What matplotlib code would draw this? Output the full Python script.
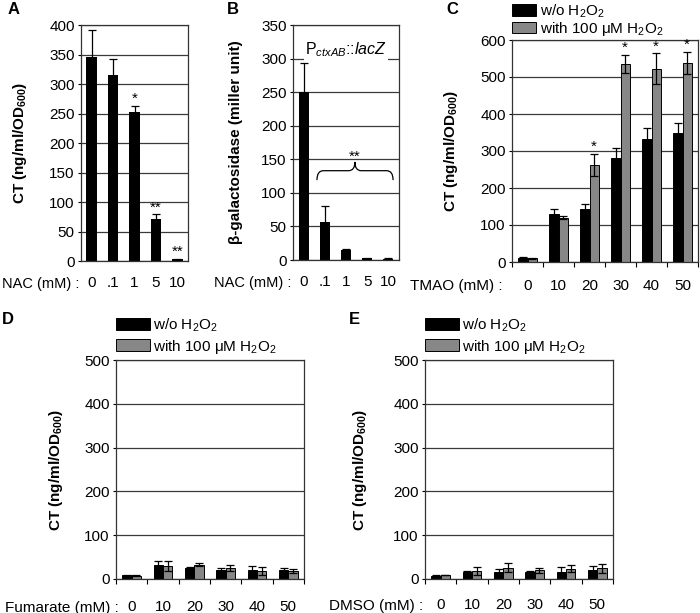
import numpy as np
import matplotlib
matplotlib.use("Agg")
import matplotlib.pyplot as plt
from matplotlib.patches import Patch, PathPatch
from matplotlib.path import Path

plt.rcParams["font.family"] = ["Liberation Sans", "DejaVu Sans"]
plt.rcParams["font.size"] = 8.5
plt.rcParams["mathtext.fontset"] = "custom"
plt.rcParams["mathtext.rm"] = "Liberation Sans"
plt.rcParams["mathtext.it"] = "Liberation Sans:italic"
plt.rcParams["mathtext.bf"] = "Liberation Sans:bold"

# panel A: CT vs NAC
nac_labels = ["0", ".1", "1", "5", "10"]
ct_nac = [345, 315, 252, 72, 3]
ct_nac_err = [47, 27, 11, 7, 1]
ct_nac_stars = ["", "", "*", "**", "**"]

# panel B: beta-galactosidase vs NAC
bgal = [250, 57, 15, 2.5, 2]
bgal_err = [43, 23, 1.5, 0.8, 0.6]

# panel C: TMAO
conc_labels = ["0", "10", "20", "30", "40", "50"]
tmao_wo = [12, 130, 143, 280, 333, 348]
tmao_wo_err = [2, 12, 15, 27, 30, 27]
tmao_h2o2 = [10, 120, 262, 535, 522, 537]
tmao_h2o2_err = [1, 4, 30, 25, 42, 30]
tmao_stars = ["", "", "*", "*", "*", "*"]

# panel D: fumarate
fum_wo = [8, 32, 24, 20, 20, 20]
fum_wo_err = [1, 8, 4, 5, 10, 6]
fum_h2o2 = [7, 30, 33, 26, 18, 18]
fum_h2o2_err = [1, 12, 3, 7, 9, 4]

# panel E: DMSO
dmso_wo = [7, 16, 16, 15, 17, 20]
dmso_wo_err = [1, 3, 6, 4, 10, 9]
dmso_h2o2 = [9, 18, 26, 20, 23, 24]
dmso_h2o2_err = [1, 9, 10, 6, 8, 10]

GRAY = "#878787"
W, H = 700, 613

fig = plt.figure(figsize=(7, 6.13), dpi=100)


def px_axes(left, right, top, bottom):
    return fig.add_axes([left / W, (H - bottom) / H, (right - left) / W, (bottom - top) / H])


def style(ax, ymax, ystep, labels, prefix, pad, xt_len, pre_dx, pre_fs, ylab, ylab_x):
    n = len(labels)
    ax.set_xlim(-0.5, n - 0.5)
    ax.set_ylim(0, ymax)
    ax.set_yticks(np.arange(0, ymax + 1, ystep))
    ax.yaxis.grid(True, color="#3a3a3a", linewidth=0.9)
    ax.set_axisbelow(True)
    for s in ax.spines.values():
        s.set_linewidth(0.9)
        s.set_color("#333333")
    ax.tick_params(axis="y", length=2.5, width=0.8, pad=2, labelsize=11)
    ax.set_xticks(range(n))
    ax.set_xticklabels(labels)
    ax.tick_params(axis="x", which="major", length=0, pad=pad, labelsize=11)
    if xt_len > 0:
        ax.set_xticks(np.arange(-0.5, n, 1), minor=True)
        ax.tick_params(axis="x", which="minor", length=xt_len, width=0.8)
    ax.annotate(prefix, xy=(0, 0), xycoords="axes fraction",
                xytext=(pre_dx, -pad - 0.5), textcoords="offset points",
                ha="right", va="top", fontsize=pre_fs)
    ax.set_ylabel(ylab, fontweight="bold", fontsize=11)
    ax.yaxis.set_label_coords(ylab_x, 0.5)


ct_label = r"CT (ng/ml/OD$_{\mathbf{600}}$)"
h2o2 = r"H$_2$O$_2$"

# ---- A
axA = px_axes(81, 188, 25, 261)
x = np.arange(len(nac_labels))
axA.bar(x, ct_nac, width=0.5, color="black", zorder=2)
axA.errorbar(x, ct_nac, yerr=ct_nac_err, fmt="none", ecolor="black",
             elinewidth=0.9, capsize=3, capthick=0.9, zorder=3)
for xi, v, e, s in zip(x, ct_nac, ct_nac_err, ct_nac_stars):
    if s:
        axA.annotate(s, xy=(xi, v + e), xytext=(0, 0), textcoords="offset points",
                     ha="center", va="bottom", fontsize=11)
style(axA, 400, 50, nac_labels, "NAC (mM) :", 11, 0, -1, 10.5, ct_label, -0.486)

# ---- B
axB = px_axes(293, 399, 25, 260)
axB.bar(x, bgal, width=0.48, color="black", zorder=2)
axB.errorbar(x, bgal, yerr=bgal_err, fmt="none", ecolor="black",
             elinewidth=0.9, capsize=3, capthick=0.9, zorder=3)
style(axB, 350, 50, nac_labels, "NAC (mM) :", 11, 0, -1, 10.5,
      "β-galactosidase (miller unit)", -0.47)
axB.text(2, 313, r"P$_{\mathit{ctxAB}}$::$\mathit{lacZ}$", ha="center", va="center",
         fontsize=11.5, bbox=dict(facecolor="white", edgecolor="none", pad=1))
# brace over .1 .. 10
x0, x1, xc = 0.63, 4.22, 2.42
ylo, ymid, yhi, dx = 119, 133, 146, 0.3
verts = [(x0, ylo), (x0, ymid), (x0 + dx, ymid), (xc - dx, ymid), (xc, ymid), (xc, yhi),
         (xc, ymid), (xc + dx, ymid), (x1 - dx, ymid), (x1, ymid), (x1, ylo)]
codes = [Path.MOVETO, Path.CURVE3, Path.CURVE3, Path.LINETO, Path.CURVE3, Path.CURVE3,
         Path.CURVE3, Path.CURVE3, Path.LINETO, Path.CURVE3, Path.CURVE3]
axB.add_patch(PathPatch(Path(verts, codes), facecolor="none", edgecolor="black", lw=0.9, zorder=4))
axB.text(xc, yhi - 3, "**", ha="center", va="bottom", fontsize=11)


def grouped(ax, wo, wo_err, hp, hp_err, stars=None):
    xs = np.arange(len(wo))
    bw = 0.3
    ax.bar(xs - bw / 2, wo, width=bw, color="black", edgecolor="black", linewidth=0.7, zorder=2)
    ax.bar(xs + bw / 2, hp, width=bw, color=GRAY, edgecolor="black", linewidth=0.7, zorder=2)
    ax.errorbar(xs - bw / 2, wo, yerr=wo_err, fmt="none", ecolor="black",
                elinewidth=0.9, capsize=3, capthick=0.9, zorder=3)
    ax.errorbar(xs + bw / 2, hp, yerr=hp_err, fmt="none", ecolor="black",
                elinewidth=0.9, capsize=3, capthick=0.9, zorder=3)
    if stars:
        for xi, v, e, s in zip(xs, hp, hp_err, stars):
            if s:
                ax.annotate(s, xy=(xi + bw / 2, v + e), xytext=(0, 0), textcoords="offset points",
                            ha="center", va="bottom", fontsize=11)


def legend(ax, hl, y_anchor, spacing):
    handles = [Patch(facecolor="black", edgecolor="black", linewidth=0.7),
               Patch(facecolor=GRAY, edgecolor="black", linewidth=0.7)]
    ax.legend(handles, ["w/o " + h2o2, "with 100 μM " + h2o2], loc="lower left",
              bbox_to_anchor=(0, y_anchor), frameon=False, fontsize=11,
              handlelength=hl, handleheight=0.8, handletextpad=0.2,
              labelspacing=spacing, borderpad=0, borderaxespad=0)


# ---- C
axC = px_axes(512, 698, 40, 262)
grouped(axC, tmao_wo, tmao_wo_err, tmao_h2o2, tmao_h2o2_err, tmao_stars)
style(axC, 600, 100, conc_labels, "TMAO (mM) :", 12, 3.5, -7, 11, ct_label, -0.28)
legend(axC, 1.6, 1.01, 0.0)

# ---- D
axD = px_axes(116, 304, 360, 579)
grouped(axD, fum_wo, fum_wo_err, fum_h2o2, fum_h2o2_err)
style(axD, 500, 100, conc_labels, "Fumarate (mM) :", 15, 3.5, 2, 11, ct_label, -0.27)
legend(axD, 2.2, 1.02, 0.25)

# ---- E
axE = px_axes(425, 613, 360, 579)
grouped(axE, dmso_wo, dmso_wo_err, dmso_h2o2, dmso_h2o2_err)
style(axE, 500, 100, conc_labels, "DMSO (mM) :", 14, 3.5, -1, 11, ct_label, -0.30)
legend(axE, 2.2, 1.02, 0.25)

# panel letters
for lab, (lx, ly) in zip("ABCDE", [(14, 10), (233, 10), (452, 10), (8, 319), (354, 319)]):
    fig.text(lx / W, 1 - ly / H, lab, fontweight="bold", fontsize=12, ha="center", va="center")

fig.savefig("out.png", dpi=100)
